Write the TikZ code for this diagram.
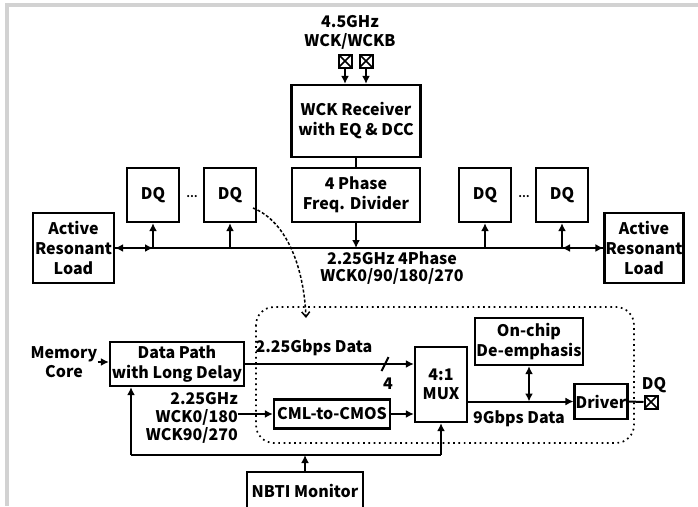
\documentclass[tikz,border=0pt]{standalone}
\usepackage{fontspec}
\setmainfont{Noto Sans CJK KR}
\usetikzlibrary{arrows.meta,calc}
\begin{document}
\begin{tikzpicture}[x=1pt,y=-1pt,
  font=\bfseries\fontsize{16}{20}\selectfont,
  blk/.style={draw, line width=2.3pt, align=center, inner sep=1pt},
  conn/.style={line width=2pt},
  arr/.style={conn,-{Latex[length=8pt,width=8pt]}},
  darr/.style={conn,{Latex[length=8pt,width=8pt]}-{Latex[length=8pt,width=8pt]}},
  pad/.style={draw, line width=2pt, minimum size=13pt, inner sep=0pt,
    path picture={\draw[line width=1.6pt] (path picture bounding box.north west) -- (path picture bounding box.south east)
      (path picture bounding box.north east) -- (path picture bounding box.south west);}},
  lbl/.style={align=center, inner sep=0pt}]
\useasboundingbox (0,0) rectangle (698,506);
\fill[gray!35] (5,3) rectangle (698,7);
\fill[gray!35] (5,3) rectangle (9,506);

% top clock input
\node[lbl] (wcklbl) at (350,32.5) {4.5GHz\\[-1pt]WCK/WCKB};
\node[pad] (p1) at (345,61) {};
\node[pad] (p2) at (366,61) {};
\node[blk, minimum width=129pt, minimum height=72pt] (rec) at (356,121) {WCK Receiver\\with EQ \& DCC};
\draw[arr] (p1.south) -- (p1.south |- rec.north);
\draw[arr] (p2.south) -- (p2.south |- rec.north);
\node[blk, minimum width=128pt, minimum height=54pt] (div) at (356,195) {4 Phase\\Freq. Divider};
\draw[conn] (rec.south) -- (div.north);

% DQ blocks
\node[blk, minimum width=52pt, minimum height=54pt] (dq1) at (153,195) {DQ};
\node[blk, minimum width=52pt, minimum height=54pt] (dq2) at (230,195) {DQ};
\node[blk, minimum width=52pt, minimum height=54pt] (dq3) at (485,195) {DQ};
\node[blk, minimum width=52pt, minimum height=54pt] (dq4) at (562,195) {DQ};
\node[lbl, font=\bfseries\fontsize{10}{12}\selectfont] (el1) at (192,197) {…};
\node[lbl, font=\bfseries\fontsize{10}{12}\selectfont] (el2) at (524,197) {…};

% active loads and bus
\node[blk, minimum width=81pt, minimum height=70pt] (actL) at (73.5,248) {Active\\Resonant\\Load};
\node[blk, minimum width=78pt, minimum height=70pt] (actR) at (644,248) {Active\\Resonant\\Load};
\draw[conn] (actL.east) -- (actR.west);
\coordinate (t1) at (dq1.south |- actL.east);
\coordinate (t2) at (dq2.south |- actL.east);
\coordinate (t3) at (dq3.south |- actL.east);
\coordinate (t4) at (dq4.south |- actL.east);
\draw[darr] (actL.east) -- (t1);
\draw[darr] (t4) -- (actR.west);
\draw[arr] (t1) -- (dq1.south);
\draw[arr] (t2) -- (dq2.south);
\draw[arr] (t3) -- (dq3.south);
\draw[arr] (t4) -- (dq4.south);
\draw[arr] (div.south) -- (div.south |- actL.east);
\node[lbl] (buslbl) at (392,268.5) {2.25GHz 4Phase\\[-3pt]WCK0/90/180/270};

% zoom curve
\coordinate (cs) at (253,208);
\coordinate (ce) at (306,318);
\draw[line width=1.5pt, dash pattern=on 3pt off 2pt, -{Straight Barb[length=5pt,width=8pt]}]
  (cs) .. controls (288,222) and (304,270) .. (ce);

% dotted region
\draw[line width=1.7pt, dash pattern=on 1.7pt off 3.6pt, rounded corners=18pt] (256,307) rectangle (634,443);

% lower data path
\node[lbl, font=\bfseries\fontsize{16}{19}\selectfont] (mem) at (64,362) {Memory\\Core};
\node[blk, minimum width=134pt, minimum height=44pt] (dp) at (177,364) {Data Path\\with Long Delay};
\draw[arr] (mem.east) -- (mem.east -| dp.west);
\node[blk, minimum width=52pt, minimum height=75pt] (mux) at (441,384.5) {4:1\\[-1pt]MUX};
\draw[arr] (dp.east) -- (dp.east -| mux.west);
\node[lbl] (gbps) at (314,348) {2.25Gbps Data};
\coordinate (sl) at (385,364);
\draw[conn] ($(sl)+(-3.5,7)$) -- ($(sl)+(3.5,-7)$);
\node[lbl] (four) at (388,384) {4};

\node[blk, minimum width=108pt, minimum height=47pt] (oc) at (529,341.5) {On-chip\\De-emphasis};
\node[blk, minimum width=52pt, minimum height=35pt] (drv) at (601,401.5) {Driver};
\node[pad] (dqpad) at (651,402) {};
\node[lbl] (dqlbl) at (654,385) {DQ};
\draw[arr] (mux.east |- drv.west) -- (drv.west);
\draw[darr] (oc.south) -- (oc.south |- drv.west);
\draw[conn] (drv.east) -- (dqpad.west);
\node[lbl] (g9) at (519,419) {9Gbps Data};

\node[blk, minimum width=116pt, minimum height=29pt] (cml) at (332,414) {CML-to-CMOS};
\node[lbl, align=right, anchor=east, font=\bfseries\fontsize{16}{18}\selectfont] (clk) at (238,418) {2.25GHz\\WCK0/180\\WCK90/270};
\draw[arr] (clk.east |- cml.west) -- (cml.west);
\draw[arr] (cml.east) -- (cml.east -| mux.west);

% NBTI feedback
\node[blk, minimum width=116pt, minimum height=38pt] (nb) at (305,491) {NBTI Monitor};
\coordinate (fbL) at (131,455);
\coordinate (fbR) at (mux.south |- fbL);
\draw[conn] (fbL) -- (fbR);
\draw[arr] (fbL) -- (fbL |- dp.south);
\draw[arr] (fbR) -- (mux.south);
\draw[arr] (nb.north) -- (nb.north |- fbL);
\end{tikzpicture}
\end{document}
